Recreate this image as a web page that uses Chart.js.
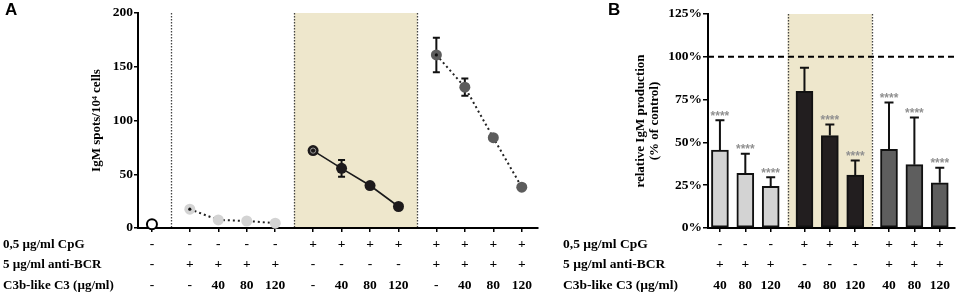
<!DOCTYPE html>
<html>
<head>
<meta charset="utf-8">
<script src="https://cdn.jsdelivr.net/npm/chart.js@4.4.1/dist/chart.umd.min.js"></script>
<style>
  body { margin: 0; background: #fff; }
  canvas { position: absolute; top: 0; }
</style>
</head>
<body>
<canvas id="chartA" width="550" height="295" style="left:0"></canvas>
<canvas id="chartB" width="407" height="295" style="left:550px"></canvas>
<script>
// ---- row names of the treatment table ----
const rowNames = ['0,5 µg/ml CpG', '5 µg/ml anti-BCR', 'C3b-like C3 (µg/ml)'];

// ---- panel A : IgM spots / 10^4 cells ----
const aCpG  = ['-', '-', '-', '-', '-', '+', '+', '+', '+', '+', '+', '+', '+'];
const aBCR  = ['-', '+', '+', '+', '+', '-', '-', '-', '-', '+', '+', '+', '+'];
const aC3   = ['-', '-', '40', '80', '120', '-', '40', '80', '120', '-', '40', '80', '120'];
const aControl    = [3.5];
const aBcrOnly    = [17.5, 7.5, 6.5, 4.5];
const aCpgOnly    = [72, 55.5, 39.5, 20];
const aCpgBcr     = [161, 131, 84, 38];
const aErrControl = [0];
const aErrBcrOnly = [0, 0, 0, 0];
const aErrCpgOnly = [0, 7.8, 0, 0];
const aErrCpgBcr  = [16, 8, 0, 0];

// ---- panel B : relative IgM production (% of control) ----
const bCpG   = ['-', '-', '-', '+', '+', '+', '+', '+', '+'];
const bBCR   = ['+', '+', '+', '-', '-', '-', '+', '+', '+'];
const bC3    = ['40', '80', '120', '40', '80', '120', '40', '80', '120'];
const bGroupSizes = [3, 3, 3];
const bValues = [45.5, 32, 24.3, 79.8, 54, 30.9, 45.9, 37, 26.4];
const bErrors = [17.5, 11.3, 5.4, 13.8, 6.4, 8.6, 27.4, 27.5, 8.8];
const bStars  = ['****', '****', '****', '', '****', '****', '****', '****', '****'];

const serif = "'Liberation Serif', 'Times New Roman', serif";
const sans = "'Liberation Sans', Arial, sans-serif";
const GAP = 1.33;   // spacing between groups (in slot units)
const SHADE = '#eee7cc';

Chart.defaults.font.family = serif;
Chart.defaults.color = '#000';

// x position of every slot, groups separated by a wider gap
function groupPositions(sizes) {
    const pos = [];
    let x = 0;
    sizes.forEach((n, g) => {
        if (g > 0) x += GAP - 1;
        for (let k = 0; k < n; k++) { pos.push(x); x += 1; }
    });
    return pos;
}
// middle of each gap between groups
function groupDividers(sizes, pos) {
    const out = [];
    let idx = 0;
    sizes.forEach((n, g) => {
        idx += n;
        if (g < sizes.length - 1) out.push((pos[idx - 1] + pos[idx]) / 2);
    });
    return out;
}

const aSeries = [aControl, aBcrOnly, aCpgOnly, aCpgBcr];
const aErrs = [aErrControl, aErrBcrOnly, aErrCpgOnly, aErrCpgBcr];
const aSizes = aSeries.map(s => s.length);
const aPos = groupPositions(aSizes);
const aDiv = groupDividers(aSizes, aPos);
const bPos = groupPositions(bGroupSizes);
const bDiv = groupDividers(bGroupSizes, bPos);

function points(series, g) {
    let start = 0;
    for (let i = 0; i < g; i++) start += aSizes[i];
    return series.map((v, k) => ({ x: aPos[start + k], y: v }));
}

// table labels, panel letter
const rowLabels = {
    id: 'rowLabels',
    afterDraw(chart, args, opts) {
        const ctx = chart.ctx, b = chart.chartArea.bottom;
        ctx.save();
        ctx.fillStyle = '#000';
        ctx.font = 'bold ' + opts.size + 'px ' + serif;
        ctx.textBaseline = 'middle';
        ctx.textAlign = 'left';
        rowNames.forEach((t, i) => ctx.fillText(t, opts.x, b + 16.5 + i * 20.5));
        ctx.font = 'bold 17px ' + sans;
        ctx.textBaseline = 'top';
        ctx.fillText(opts.letter, opts.letterX, 2);
        ctx.restore();
    }
};

// shaded CpG block, dotted dividers, optional 100% line
const bands = {
    id: 'bands',
    beforeDraw(chart, args, opts) {
        const { ctx, chartArea: ca, scales: { x, y } } = chart;
        ctx.save();
        const x1 = x.getPixelForValue(opts.shade[0]);
        const x2 = x.getPixelForValue(opts.shade[1]);
        ctx.fillStyle = SHADE;
        ctx.fillRect(x1, ca.top, x2 - x1, ca.bottom - ca.top);
        ctx.strokeStyle = '#444';
        ctx.lineWidth = 1.3;
        ctx.setLineDash([1.5, 1.5]);
        opts.lines.forEach(v => {
            const px = Math.round(x.getPixelForValue(v)) + 0.5;
            ctx.beginPath(); ctx.moveTo(px, ca.top); ctx.lineTo(px, ca.bottom); ctx.stroke();
        });
        if (opts.refLine !== undefined) {
            const py = y.getPixelForValue(opts.refLine);
            ctx.strokeStyle = '#000';
            ctx.lineWidth = 2;
            ctx.setLineDash([6, 4]);
            ctx.beginPath(); ctx.moveTo(ca.left, py); ctx.lineTo(ca.right, py); ctx.stroke();
        }
        ctx.restore();
    }
};

// error bars (both ways for A, upward for B) and significance stars
function drawErr(chart, opts) {
    const { ctx, scales: { y } } = chart;
    ctx.save();
    ctx.strokeStyle = '#111';
    ctx.lineWidth = 2;
    opts.errors.forEach((errs, di) => {
        const meta = chart.getDatasetMeta(di);
        errs.forEach((e, j) => {
            if (!e) return;
            const v = chart.data.datasets[di].data[j].y;
            const px = meta.data[j].x;
            const top = y.getPixelForValue(v + e);
            const bot = opts.upOnly ? y.getPixelForValue(v) : y.getPixelForValue(v - e);
            ctx.beginPath();
            ctx.moveTo(px, top); ctx.lineTo(px, bot);
            ctx.moveTo(px - opts.cap, top); ctx.lineTo(px + opts.cap, top);
            if (!opts.upOnly) { ctx.moveTo(px - opts.cap, bot); ctx.lineTo(px + opts.cap, bot); }
            ctx.stroke();
            if (opts.stars && opts.stars[j]) {
                ctx.fillStyle = '#909090';
                ctx.font = 'bold 12px ' + sans;
                ctx.textAlign = 'center';
                ctx.textBaseline = 'alphabetic';
                ctx.fillText(opts.stars[j], px, top - 0.5);
            }
        });
    });
    ctx.restore();
}
const errBars = {
    id: 'errBars',
    beforeDatasetsDraw(chart, args, opts) { if (opts.behind) drawErr(chart, opts); },
    afterDatasetsDraw(chart, args, opts) { if (!opts.behind) drawErr(chart, opts); }
};

// small centre mark on the first point of each stimulated group (panel A)
const centreDots = {
    id: 'centreDots',
    afterDatasetsDraw(chart, args, opts) {
        const ctx = chart.ctx;
        ctx.save();
        opts.marks.forEach(m => {
            const el = chart.getDatasetMeta(m.ds).data[0];
            ctx.beginPath();
            ctx.arc(el.x, el.y, m.r, 0, Math.PI * 2);
            if (m.ring) { ctx.strokeStyle = m.ring; ctx.lineWidth = 1; ctx.stroke(); }
            else { ctx.fillStyle = m.fill; ctx.fill(); }
        });
        ctx.restore();
    }
};

const tickFont = { size: 13.5, weight: 'bold', lineHeight: 20.5 / 13.5 };
const yFont = { size: 13.5, weight: 'bold' };

function axisX(pos, min, max, labels) {
    return {
        type: 'linear', min: min, max: max, offset: false,
        afterFit(s) { s.height = 67; },
        afterBuildTicks(s) { s.ticks = pos.map(v => ({ value: v })); },
        ticks: {
            autoSkip: false, maxRotation: 0, minRotation: 0, padding: 2, color: '#000', font: tickFont,
            callback: (v, i) => [labels[0][i], labels[1][i], labels[2][i]]
        },
        grid: { display: true, drawOnChartArea: false, offset: false, tickLength: 4, color: '#000', lineWidth: 1.5 },
        border: { display: true, color: '#000', width: 2 }
    };
}

// ---------- panel A ----------
const lineBase = { showLine: true, clip: false, pointRadius: 5.5, pointBorderWidth: 0, borderWidth: 2 };
new Chart(document.getElementById('chartA').getContext('2d'), {
    type: 'line',
    data: {
        datasets: [
            { data: points(aControl, 0), showLine: false, clip: false, pointRadius: 5,
              pointBackgroundColor: '#fff', pointBorderColor: '#000', pointBorderWidth: 2 },
            Object.assign({}, lineBase, { data: points(aBcrOnly, 1), borderColor: '#222', borderDash: [2, 3],
              pointBackgroundColor: '#d3d3d3' }),
            Object.assign({}, lineBase, { data: points(aCpgOnly, 2), borderColor: '#1a1a1a', borderWidth: 1.6,
              pointBackgroundColor: '#1d1a1b' }),
            Object.assign({}, lineBase, { data: points(aCpgBcr, 3), borderColor: '#222', borderDash: [2, 3],
              pointBackgroundColor: '#5c5c5c' })
        ]
    },
    options: {
        responsive: false, animation: false, events: [],
        layout: { padding: { left: 89, right: 12, top: 13, bottom: 0 } },
        plugins: {
            legend: { display: false }, tooltip: { enabled: false },
            rowLabels: { x: 3, size: 13, letter: 'A', letterX: 5 },
            bands: { shade: [aDiv[1], aDiv[2]], lines: aDiv },
            errBars: { errors: aErrs, behind: true, upOnly: false, cap: 3.5 },
            centreDots: { marks: [
                { ds: 1, r: 1.6, fill: '#111' },
                { ds: 2, r: 2.6, ring: '#9a9a9a' },
                { ds: 3, r: 1.6, fill: '#111' }
            ] }
        },
        scales: {
            x: axisX(aPos, -0.49, 13.56, [aCpG, aBCR, aC3]),
            y: {
                min: 0, max: 200,
                afterFit(s) { s.width = 49; },
                ticks: { stepSize: 50, padding: 1, color: '#000', font: yFont },
                grid: { display: true, drawOnChartArea: false, tickLength: 4, color: '#000', lineWidth: 1.5 },
                border: { display: true, color: '#000', width: 2 },
                title: { display: true, text: 'IgM spots/10⁴ cells', color: '#000',
                         font: { size: 13, weight: 'bold', lineHeight: 1.2 }, padding: 0 }
            }
        }
    },
    plugins: [bands, errBars, centreDots, rowLabels]
});

// ---------- panel B ----------
const groupColors = ['#d3d3d3', '#221e1f', '#5e5e5e'];
const bColors = [];
bGroupSizes.forEach((n, g) => { for (let k = 0; k < n; k++) bColors.push(groupColors[g]); });

new Chart(document.getElementById('chartB').getContext('2d'), {
    type: 'bar',
    data: {
        datasets: [{
            data: bValues.map((v, i) => ({ x: bPos[i], y: v })),
            backgroundColor: bColors,
            borderColor: '#111',
            borderWidth: 2,
            borderSkipped: false,
            barThickness: 17,
            grouped: false
        }]
    },
    options: {
        responsive: false, animation: false, events: [],
        layout: { padding: { left: 83, right: 2, top: 14, bottom: 0 } },
        plugins: {
            legend: { display: false }, tooltip: { enabled: false },
            rowLabels: { x: 13, size: 13.5, letter: 'B', letterX: 58 },
            bands: { shade: [bDiv[0], bDiv[1]], lines: bDiv, refLine: 100 },
            errBars: { errors: [bErrors], behind: false, upOnly: true, cap: 4.5, stars: bStars }
        },
        scales: {
            x: axisX(bPos, -0.47, 9.26, [bCpG, bBCR, bC3]),
            y: {
                min: 0, max: 125,
                afterFit(s) { s.width = 75; },
                ticks: { stepSize: 25, padding: 1, color: '#000', font: yFont, callback: v => v + '%' },
                grid: { display: true, drawOnChartArea: false, tickLength: 5, color: '#000', lineWidth: 1.5 },
                border: { display: true, color: '#000', width: 2 },
                title: { display: true, text: ['relative IgM production', '(% of control)'], color: '#000',
                         font: { size: 13, weight: 'bold', lineHeight: 1.1 }, padding: 0 }
            }
        }
    },
    plugins: [bands, errBars, rowLabels]
});
</script>
</body>
</html>
